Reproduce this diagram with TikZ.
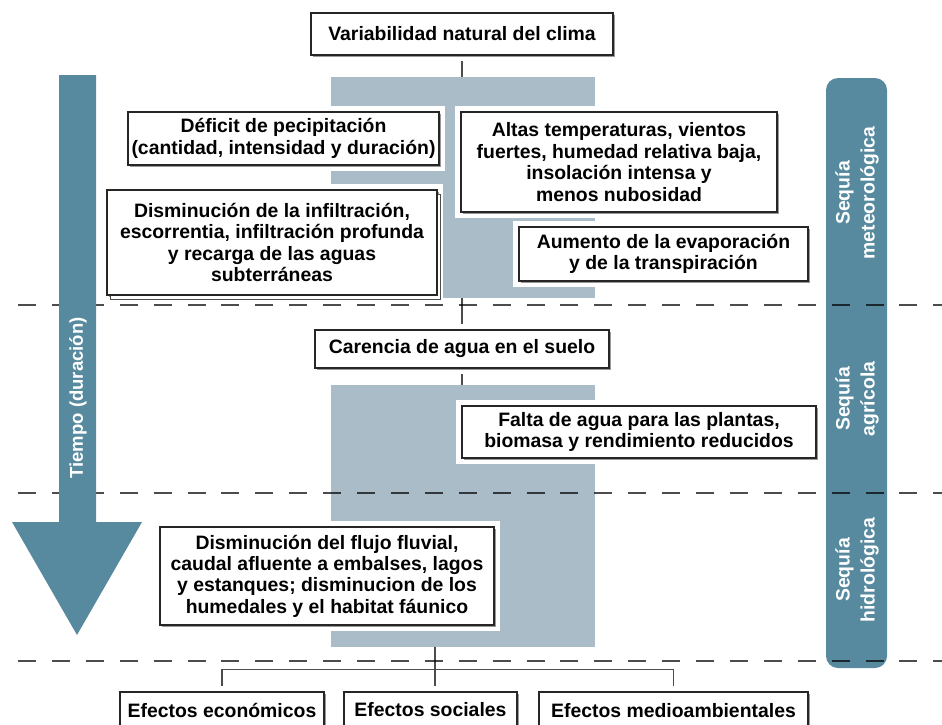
\documentclass[tikz,border=0pt]{standalone}
\usepackage{fontspec}
\setmainfont{Liberation Sans}
\usetikzlibrary{shadows}

\pgfdeclarelayer{background}
\pgfsetlayers{background,main}

\definecolor{paleblue}{RGB}{169,188,200}
\definecolor{seablue}{RGB}{87,138,158}

\newcommand{\boxfont}{\bfseries\fontsize{19.4}{21.4}\selectfont}

\tikzset{
  box/.style={draw=black!85, line width=1.2pt, fill=white, align=center, inner sep=0pt,
    preaction={draw=white, line width=12pt},
    drop shadow={shadow xshift=1.5pt, shadow yshift=-1.5pt, fill=black!40, opacity=1},
    font=\boxfont},
  conn/.style={draw=black!70, line width=1.3pt},
  cut/.style={draw=black, opacity=0.7, line width=2pt, dash pattern=on 18pt off 15.9pt},
  barlabel/.style={text=white, rotate=90, align=center, font=\bfseries\fontsize{19.4}{25}\selectfont}
}

\begin{document}
\begin{tikzpicture}[x=1pt, y=-1pt]
\useasboundingbox (0,0) rectangle (942,724);
\clip (0,0) rectangle (942,724);

% Boxes
\node[box, minimum width=302pt, minimum height=42pt] (var) at (462,34) {Variabilidad natural del clima};
\node[box, minimum width=311pt, minimum height=53pt] (def) at (283.5,138.5) {Déficit de pecipitación\\(cantidad, intensidad y duración)};
\node[box, minimum width=330pt, minimum height=105pt,
  drop shadow={shadow xshift=3pt, shadow yshift=-4pt, fill=white, draw=black!70, line width=1pt, opacity=1}]
  (inf) at (272,242.5) {Disminución de la infiltración,\\escorrentia, infiltración profunda\\y recarga de las aguas\\subterráneas};
\node[box, minimum width=316pt, minimum height=100pt] (alt) at (619,162) {Altas temperaturas, vientos\\fuertes, humedad relativa baja,\\insolación intensa y\\menos nubosidad};
\node[box, minimum width=289pt, minimum height=54pt] (aum) at (663.5,254) {Aumento de la evaporación\\y de la transpiración};
\node[box, minimum width=294pt, minimum height=38pt] (car) at (462,349) {Carencia de agua en el suelo};
\node[box, minimum width=354pt, minimum height=52pt] (fal) at (639,432) {Falta de agua para las plantas,\\biomasa y rendimiento reducidos};
\node[box, minimum width=334pt, minimum height=98pt] (flu) at (327,576) {Disminución del flujo fluvial,\\caudal afluente a embalses, lagos\\y estanques; disminucion de los\\humedales y el habitat fáunico};
\node[box, minimum width=204pt, minimum height=36pt] (eco) at (222,710) {Efectos económicos};
\node[box, minimum width=173pt, minimum height=36pt] (soc) at (430.5,710) {Efectos sociales};
\node[box, minimum width=269pt, minimum height=38pt] (med) at (673.5,711) {Efectos medioambientales};

% Lines and bands behind the boxes
\begin{pgfonlayer}{background}
  \coordinate (b2) at (435,647);
  \draw[conn] (var.south) -- (car.north);
  \draw[conn] (car.south) -- (car.south |- 0,390);
  \draw[conn] (b2) -- (b2 |- soc.north);
  \draw[conn] (eco.north) -- ++(0,-22) -| (med.north);
  \fill[paleblue] (331,77) rectangle (595,298);
  \fill[paleblue] (331,385) rectangle (595,647);
  % Sequia bar
  \fill[seablue, rounded corners=12pt] (826,78) rectangle (887,668);
\end{pgfonlayer}

\node[barlabel] (met) at (857,193) {Sequía\\meteorológica};
\node[barlabel] (agr) at (857,399) {Sequía\\agrícola};
\node[barlabel] (hid) at (857,570) {Sequía\\hidrológica};

% Stage limits
\draw[cut] (18,305) -- (942,305);
\draw[cut] (18,493) -- (942,493);
\draw[cut] (18,661) -- (942,661);

% Time arrow
\fill[seablue] (59,75) -- (96,75) -- (96,522) -- (142,522) -- (77,635) -- (12,522) -- (59,522) -- cycle;
\node[text=white, rotate=90, font=\bfseries\fontsize{18.5}{20}\selectfont] (time) at (78,398) {Tiempo (duración)};

\end{tikzpicture}
\end{document}
